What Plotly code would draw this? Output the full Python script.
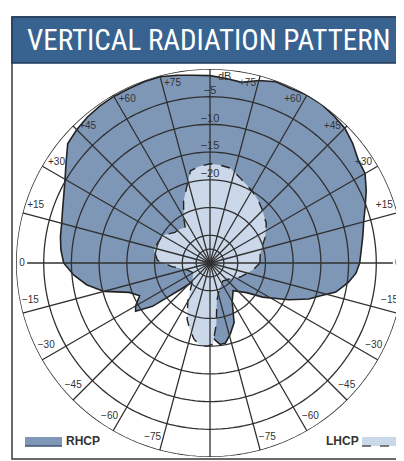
import plotly.graph_objects as go

# ---------------- data ----------------
rhcp_theta = [0, 5, 10, 15, 20, 25, 30, 35, 40, 45, 50, 55, 60, 65, 70, 75, 80, 85, 90,
              95, 100, 105, 110, 115, 120, 125, 130, 135, 140, 145, 150, 155, 160, 165,
              170, 175, 180, 185, 190, 195, 200, 205, 210, 213, 217, 222, 230, 240, 250,
              260, 268, 272, 277, 281, 286, 292, 300, 310, 321, 327, 335, 340, 343, 347,
              352, 356, 360]
rhcp_db = [-8.0, -7.6, -7.0, -6.3, -5.2, -3.9, -2.7, -2.4, -1.4, -0.6, -0.3, 0.0, 0.0, -0.3,
           -0.2, -0.9, -1.9, -1.6, -1.2, -1.0, -0.6, -0.2, -0.2, -0.3, -0.3, -0.4, -0.6,
           -1.0, -1.5, -3.3, -4.8, -5.9, -6.7, -7.3, -7.6, -8.0, -8.6, -10.3, -12.4, -15.2,
           -19.5, -21.0, -19.5, -19.0, -22.0, -28.0, -31.0, -31.0, -30.0, -27.0, -24.0,
           -21.5, -20.2, -20.3, -21.7, -23.4, -27.0, -28.5, -26.5, -23.7, -19.3, -16.0,
           -14.5, -11.7, -9.8, -8.6, -8.0]

lhcp_theta = [0, 10, 17, 25, 35, 45, 52, 60, 70, 78, 85, 90, 97, 102, 106, 113, 120, 125,
              132, 139, 149, 158, 167, 177, 185, 195, 210, 225, 240, 248, 253, 258, 263,
              268, 272, 276, 280, 290, 305, 320, 335, 345, 352, 360]
lhcp_db = [-26.0, -25.8, -25.2, -24.0, -22.6, -21.6, -20.8, -19.9, -18.8, -17.5, -17.2,
           -17.1, -17.5, -18.0, -20.2, -22.8, -25.5, -27.2, -26.8, -26.6, -25.2, -24.9,
           -24.6, -25.5, -28.0, -30.5, -31.5, -30.5, -27.0, -24.0, -22.5, -21.0, -20.0,
           -20.0, -20.3, -24.0, -28.0, -30.0, -31.0, -30.5, -29.0, -28.0, -27.0, -26.0]

ring_db = [-32.5, -30, -25, -20, -15, -10, -5, 0]
spoke_angles = [0, 15, 30, 45, 60, 75, 90, 105, 120, 135, 150, 165]
ring_labels = ["−5", "−10", "−15", "−20"]
ring_label_db = [-5, -10, -15, -20]
angle_label_theta = [15, 30, 45, 60, 75, 105, 120, 135, 150, 165,
                     195, 210, 225, 240, 255, 285, 300, 315, 330, 345]
angle_label_text = ["+15", "+30", "+45", "+60", "+75", "+75", "+60", "+45", "+30", "+15",
                    "−15", "−30", "−45", "−60", "−75", "−75", "−60", "−45", "−30", "−15"]

# ---------------- layout constants ----------------
OFF = 8                      # page body margin offset
W, H = 404 - OFF, 461 - OFF
ML, MR, MT, MB = 8, 0, 61, 4
PW, PH = W - ML - MR, H - MT - MB
R_MIN, R_MAX = -35, 0
GRID = "#303030"
OUTLINE = "#222222"
RH_FILL = "#7f97b7"
LH_FILL = "#cad8e9"
TXT = "#333333"
LABEL_R = -1.9
LABEL_SHIFT = 3.2


def xp(px):
    """page pixel x -> paper coordinate"""
    return (px - OFF - ML) / PW


def yp(py):
    """page pixel y -> paper coordinate"""
    return (H - MB - (py - OFF)) / PH


fig = go.Figure()

# pattern fills
fig.add_trace(go.Scatterpolar(theta=rhcp_theta, r=rhcp_db, mode="lines", fill="toself",
                              fillcolor=RH_FILL, line=dict(color=OUTLINE, width=1.6),
                              hoverinfo="skip", name="RHCP"))
fig.add_trace(go.Scatterpolar(theta=lhcp_theta, r=lhcp_db, mode="lines", fill="toself",
                              fillcolor=LH_FILL,
                              line=dict(color=OUTLINE, width=1.4, dash="dash"),
                              hoverinfo="skip", name="LHCP"))

# grid rings on top
for d in ring_db:
    th = list(range(0, 361, 2))
    fig.add_trace(go.Scatterpolar(theta=th, r=[d] * len(th), mode="lines",
                                  line=dict(color=GRID, width=1.3 if d < 0 else 1.5),
                                  hoverinfo="skip"))

# spokes
st, sr = [], []
for a in spoke_angles:
    end = -2.0 if a == 0 else 0
    st += [a, a, a + 180, None]
    sr += [end, R_MIN, end, None]
fig.add_trace(go.Scatterpolar(theta=st, r=sr, mode="lines",
                              line=dict(color=GRID, width=1.3), hoverinfo="skip"))

# ring labels
fig.add_trace(go.Scatterpolar(theta=[90] * len(ring_label_db),
                              r=[d + 1.0 for d in ring_label_db], mode="text",
                              text=ring_labels, textposition="middle center",
                              textfont=dict(size=11, color=TXT, family="Liberation Sans"),
                              hoverinfo="skip"))
fig.add_trace(go.Scatterpolar(theta=[85.5], r=[-1.3], mode="text", text=["dB"],
                              textposition="middle center",
                              textfont=dict(size=11, color=TXT, family="Liberation Sans"),
                              hoverinfo="skip"))

# angle labels, sitting just above (higher elevation than) their spoke
lab_theta = []
for t in angle_label_theta:
    if t < 90 or t > 270:
        lab_theta.append(t + LABEL_SHIFT)
    else:
        lab_theta.append(t - LABEL_SHIFT)
fig.add_trace(go.Scatterpolar(theta=lab_theta, r=[LABEL_R] * len(lab_theta),
                              mode="text", text=angle_label_text, textposition="middle center",
                              textfont=dict(size=10, color=TXT, family="Liberation Sans"),
                              hoverinfo="skip"))
fig.add_trace(go.Scatterpolar(theta=[0, 180], r=[-1.1, -1.1], mode="text", text=["0", "0"],
                              textposition="middle center",
                              textfont=dict(size=10, color=TXT, family="Liberation Sans"),
                              hoverinfo="skip"))

shapes = [
    # outer frame
    dict(type="rect", xref="paper", yref="paper", x0=xp(12), x1=xp(402), y0=yp(459), y1=yp(17),
         line=dict(color="#3a3a3a", width=1.5), fillcolor="rgba(0,0,0,0)", layer="above"),
    # title banner
    dict(type="rect", xref="paper", yref="paper", x0=xp(12), x1=xp(402), y0=yp(63), y1=yp(17),
         line=dict(color="#1f3a57", width=1.5), fillcolor="#386290", layer="above"),
    # RHCP legend swatch
    dict(type="rect", xref="paper", yref="paper", x0=xp(25), x1=xp(62), y0=yp(446), y1=yp(437),
         line=dict(width=0), fillcolor=RH_FILL, layer="above"),
    dict(type="line", xref="paper", yref="paper", x0=xp(25), x1=xp(62), y0=yp(446), y1=yp(446),
         line=dict(color="#3d5470", width=1.5), layer="above"),
    # LHCP legend swatch
    dict(type="rect", xref="paper", yref="paper", x0=xp(362), x1=xp(396), y0=yp(446), y1=yp(437),
         line=dict(width=0), fillcolor=LH_FILL, layer="above"),
    dict(type="line", xref="paper", yref="paper", x0=xp(362), x1=xp(396), y0=yp(446), y1=yp(446),
         line=dict(color="#555555", width=1.5, dash="dash"), layer="above"),
]

annotations = [
    dict(text="VERTICAL RADIATION PATTERN", xref="paper", yref="paper", x=xp(209), y=yp(40),
         showarrow=False, xanchor="center", yanchor="middle",
         font=dict(size=29, color="white",
                   family="Liberation Sans Narrow, Roboto Condensed, Arial Narrow, Liberation Sans")),
    dict(text="<b>RHCP</b>", xref="paper", yref="paper", x=xp(64), y=yp(441), showarrow=False,
         xanchor="left", yanchor="middle",
         font=dict(size=12, color=TXT, family="Liberation Sans")),
    dict(text="<b>LHCP</b>", xref="paper", yref="paper", x=xp(361), y=yp(441), showarrow=False,
         xanchor="right", yanchor="middle",
         font=dict(size=12, color=TXT, family="Liberation Sans")),
]

fig.update_layout(
    width=W, height=H,
    margin=dict(l=ML, r=MR, t=MT, b=MB, pad=0),
    paper_bgcolor="white",
    showlegend=False,
    polar=dict(
        domain=dict(x=[0, 1], y=[0, 1]),
        bgcolor="white",
        radialaxis=dict(range=[R_MIN, R_MAX], visible=False, showgrid=False),
        angularaxis=dict(rotation=0, direction="counterclockwise", showgrid=False,
                         showline=False, showticklabels=False, ticks=""),
    ),
    shapes=shapes,
    annotations=annotations,
)

fig.write_html("out.html")
